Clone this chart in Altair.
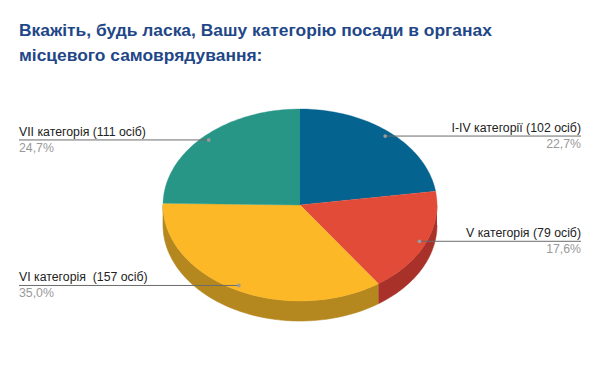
import altair as alt
import pandas as pd

# ---- data ----
categories = ["I-IV категорії (102 осіб)", "V категорія (79 осіб)",
              "VI категорія\u00a0 (157 осіб)", "VII категорія (111 осіб)"]
counts = [102, 79, 157, 111]
percents = ["22,7%", "17,6%", "35,0%", "24,7%"]
title_lines = ["Вкажіть, будь ласка, Вашу категорію посади в органах",
               "місцевого самоврядування:"]

top_colors = ["#04638f", "#e14b37", "#fdb827", "#289687"]
side_colors = ["#034766", "#a8322a", "#b4871f", "#1d6b60"]

df = pd.DataFrame({"cat": categories, "value": counts, "pct": percents,
                   "ord": list(range(len(categories)))})

# geometry (page pixels)
CX, CY, RX, RY, DEPTH = 300, 205, 137, 96, 20
N = 60
W, H = 584, 355
X0, Y0 = 8, 8

xs = alt.Scale(domain=[X0, X0 + W], nice=False, zero=False)
ys = alt.Scale(domain=[Y0, Y0 + H], nice=False, zero=False, reverse=True)
fill_scale = alt.Scale(domain=categories, range=top_colors)
side_scale = alt.Scale(domain=categories, range=side_colors)

base = (
    alt.Chart(df)
    .transform_joinaggregate(total="sum(value)")
    .transform_window(cum="sum(value)", sort=[alt.SortField("ord")], frame=[None, 0])
    .transform_calculate(
        a0="2*PI*(datum.cum - datum.value)/datum.total",
        a1="2*PI*datum.cum/datum.total",
    )
    .transform_calculate(am="(datum.a0 + datum.a1)/2")
)

# top faces
faces = (
    base.transform_calculate(s=f"sequence(0, {N + 2})")
    .transform_flatten(["s"])
    .transform_calculate(
        ang=f"datum.a0 + (datum.a1 - datum.a0)*(datum.s - 1)/{N}",
        r="datum.s == 0 ? 0 : 1",
    )
    .transform_calculate(
        px=f"{CX} + {RX}*datum.r*sin(datum.ang)",
        py=f"{CY} - {RY}*datum.r*cos(datum.ang)",
    )
    .mark_line(strokeWidth=0.6, strokeOpacity=0.6, interpolate="linear")
    .encode(
        x=alt.X("px:Q", scale=xs, axis=None),
        y=alt.Y("py:Q", scale=ys, axis=None),
        fill=alt.Fill("cat:N", scale=fill_scale, legend=None),
        stroke=alt.Stroke("cat:N", scale=fill_scale, legend=None),
        detail="cat:N",
        order=alt.Order("s:Q"),
    )
)

# visible side walls (front half of the ellipse)
walls = (
    base.transform_calculate(
        b0="max(datum.a0, PI/2)", b1="min(datum.a1, 3*PI/2)"
    )
    .transform_filter("datum.b1 > datum.b0")
    .transform_calculate(s=f"sequence(0, {2 * N + 2})")
    .transform_flatten(["s"])
    .transform_calculate(
        ang=f"datum.s <= {N} ? datum.b0 + (datum.b1 - datum.b0)*datum.s/{N} : "
            f"datum.b1 - (datum.b1 - datum.b0)*(datum.s - {N} - 1)/{N}",
        dz=f"datum.s <= {N} ? 0 : {DEPTH}",
    )
    .transform_calculate(
        px=f"{CX} + {RX}*sin(datum.ang)",
        py=f"{CY} - {RY}*cos(datum.ang) + datum.dz",
    )
    .mark_line(strokeWidth=0.6, interpolate="linear")
    .encode(
        x=alt.X("px:Q", scale=xs, axis=None),
        y=alt.Y("py:Q", scale=ys, axis=None),
        fill=alt.Fill("cat:N", scale=side_scale, legend=None),
        stroke=alt.Stroke("cat:N", scale=side_scale, legend=None),
        detail="cat:N",
        order=alt.Order("s:Q"),
    )
)

# label anchor points
lab = base.transform_calculate(
    dx=f"{CX} + {RX}*0.95*sin(datum.am)",
    dy=f"{CY} - {RY}*0.95*cos(datum.am)",
    right="datum.am < PI",
).transform_calculate(
    lx="datum.right ? 581 : 19",
)

leaders = lab.mark_rule(color="#6b6b6b", strokeWidth=1).encode(
    x=alt.X("dx:Q", scale=xs, axis=None),
    x2="lx:Q",
    y=alt.Y("dy:Q", scale=ys, axis=None),
)

dots = lab.mark_point(filled=True, size=14, color="#9a9a9a", opacity=1).encode(
    x=alt.X("dx:Q", scale=xs, axis=None),
    y=alt.Y("dy:Q", scale=ys, axis=None),
)


def label_layer(field, color, dy):
    layers = []
    for side, al in (("true", "right"), ("false", "left")):
        layers.append(
            lab.transform_filter(f"datum.right == {side}")
            .mark_text(align=al, baseline="alphabetic", dy=dy, font="Liberation Sans",
                       fontSize=12.3, color=color)
            .encode(
                x=alt.X("lx:Q", scale=xs, axis=None),
                y=alt.Y("dy:Q", scale=ys, axis=None),
                text=f"{field}:N",
            )
        )
    return layers


names = label_layer("cat", "#222222", -4)
pcts = label_layer("pct", "#999999", 12)

tdf = pd.DataFrame({"t": title_lines, "i": list(range(len(title_lines)))})
title = (
    alt.Chart(tdf)
    .transform_calculate(tx="19", ty="36 + 25*datum.i")
    .mark_text(align="left", baseline="alphabetic", font="Liberation Sans",
               fontSize=17.4, fontWeight="bold", color="#1f4788")
    .encode(
        x=alt.X("tx:Q", scale=xs, axis=None),
        y=alt.Y("ty:Q", scale=ys, axis=None),
        text="t:N",
    )
)

chart = (
    alt.layer(walls, faces, leaders, dots, *names, *pcts, title)
    .resolve_scale(fill="independent", stroke="independent")
    .properties(width=W, height=H, padding=0, autosize="none")
    .configure_view(stroke=None)
)

chart.save("out.html", embed_options={"renderer": "svg", "actions": False})
